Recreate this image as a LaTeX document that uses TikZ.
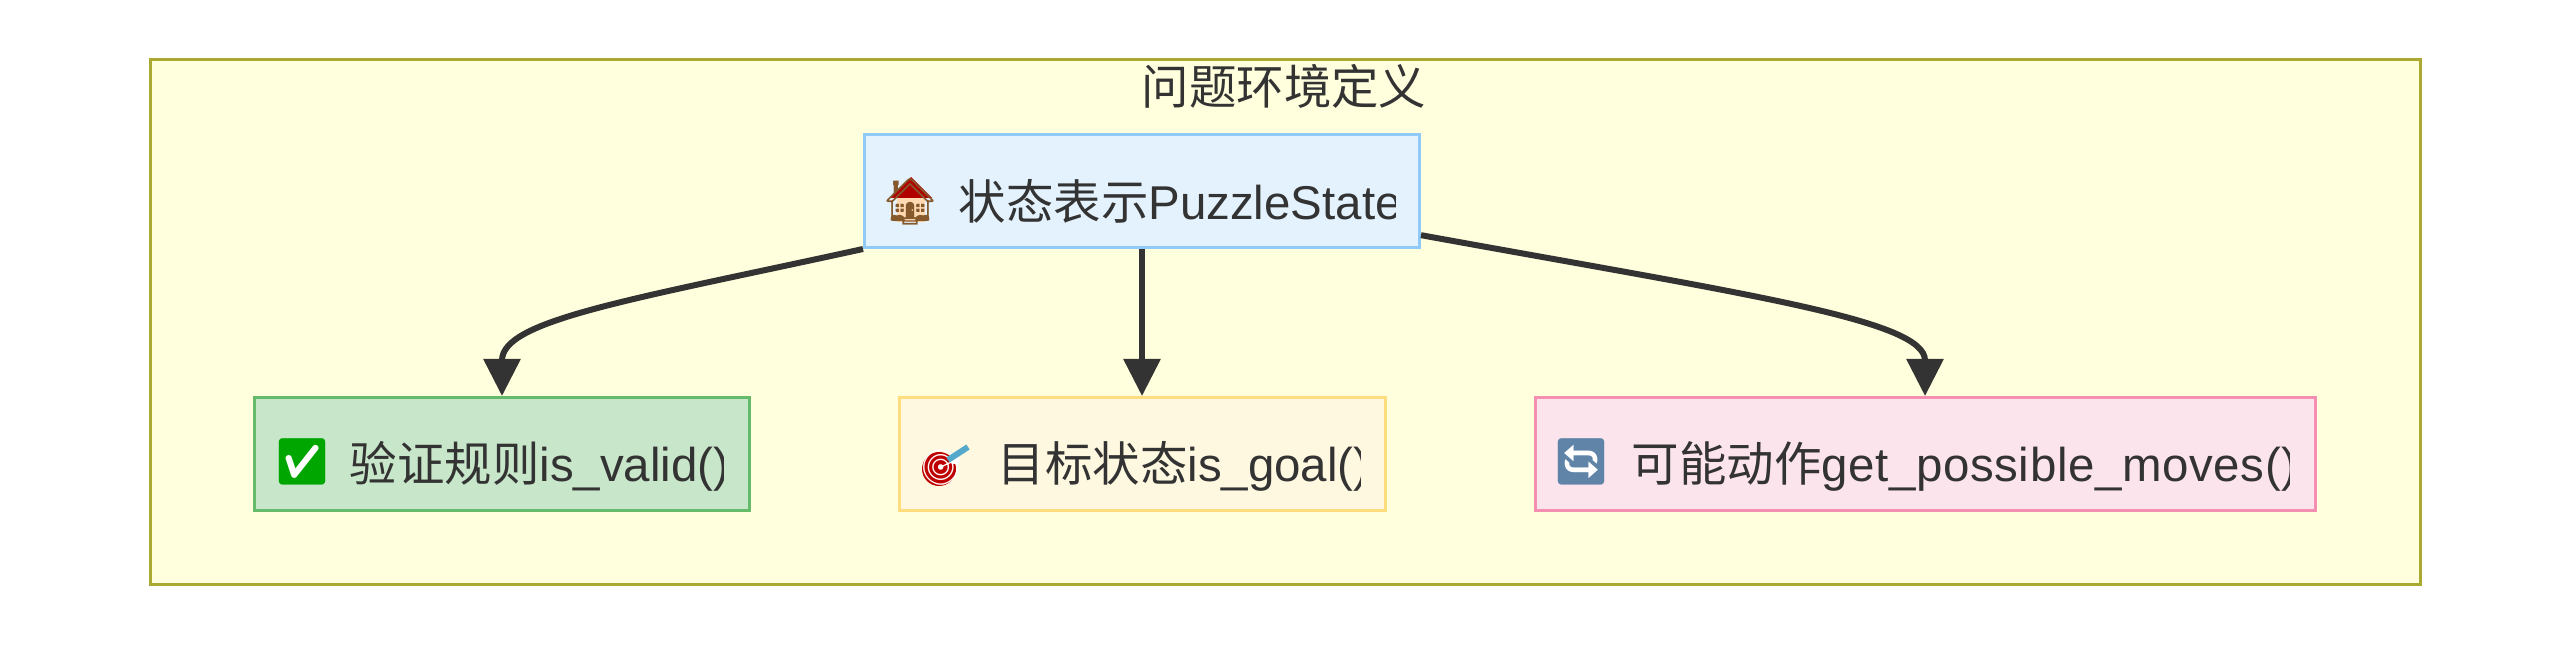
\documentclass[tikz,border=0pt]{standalone}
\usepackage{fontspec}
\setmainfont{Liberation Sans}
\newfontfamily\cjk{Noto Sans CJK SC}
\newfontfamily\emoji{Noto Emoji}
\usetikzlibrary{arrows.meta}
\definecolor{clusterfill}{HTML}{FFFFDE}
\definecolor{clusterline}{HTML}{AAAA33}
\definecolor{ink}{HTML}{333333}
\definecolor{statefill}{HTML}{E3F2FD}
\definecolor{stateline}{HTML}{90CAF9}
\definecolor{validfill}{HTML}{C8E6C9}
\definecolor{validline}{HTML}{66BB6A}
\definecolor{goalfill}{HTML}{FFF8E1}
\definecolor{goalline}{HTML}{FFDC7D}
\definecolor{movesfill}{HTML}{FCE4EC}
\definecolor{movesline}{HTML}{F48FB1}
\definecolor{syncblue}{HTML}{5F84A8}
\tikzset{
  flow/.style={draw=ink,line width=0.06cm,-{Triangle[width=0.36cm,length=0.37cm]}},
  box/.style={draw,line width=0.03cm,minimum height=1.13cm,inner sep=0pt},
  label/.style={anchor=base west,inner sep=0pt,text=ink,font=\fontsize{13.5pt}{16pt}\selectfont},
  icon/.style={inner sep=0pt,font=\fontsize{13pt}{16pt}\selectfont\emoji},
  backing/.style={inner sep=0pt,fill=white,rounded corners=0.08cm,minimum size=0.44cm},
}
\begin{document}
\begin{tikzpicture}
  \useasboundingbox (0,0) rectangle (25.70,-6.45);
  \fill[white] (0,0) rectangle (25.70,-6.45);
  % group
  \node[draw=clusterline,fill=clusterfill,line width=0.03cm,minimum width=22.70cm,minimum height=5.25cm,inner sep=0pt] (env) at (12.85,-3.225) {};
  \node[label,anchor=base,font=\fontsize{13.5pt}{16pt}\selectfont\cjk] (title) at (12.84,-1.05) {问题环境定义};
  % boxes
  \node[box,draw=stateline,fill=statefill,minimum width=5.55cm] (state) at (11.42,-1.91) {};
  \node[box,draw=validline,fill=validfill,minimum width=4.95cm] (valid) at (5.02,-4.54) {};
  \node[box,draw=goalline,fill=goalfill,minimum width=4.86cm] (goal) at (11.42,-4.54) {};
  \node[box,draw=movesline,fill=movesfill,minimum width=7.80cm] (moves) at (19.25,-4.54) {};
  % icons
  \fill[red!70!black] (9.11,-1.77) -- (8.90,-1.98) -- (9.32,-1.98) -- cycle;
  \fill[orange!30!white] (8.97,-1.98) rectangle (9.25,-2.22);
  \node[icon,text=brown!70!black] (house) at (9.105,-2.02) {🏠};
  \node[backing] (checkbg) at (3.02,-4.62) {};
  \node[icon,text=green!65!black] (check) at (3.02,-4.62) {✅};
  \fill[red!75!black] (9.39,-4.69) circle (0.17);
  \node[icon,text=white,font=\fontsize{10pt}{12pt}\selectfont\emoji] (target) at (9.42,-4.67) {🎯};
  \draw[cyan!60!gray,line width=0.06cm] (9.48,-4.60) -- (9.68,-4.47);
  \node[backing] (syncbg) at (15.815,-4.62) {};
  \node[icon,text=syncblue] (sync) at (15.815,-4.62) {🔄};
  % texts, cut off at the padding
  \begin{scope}
    \clip (8.64,-1.34) rectangle (13.95,-2.48);
    \node[label] (statetext) at (9.58,-2.20) {{\cjk 状态表示}PuzzleState};
  \end{scope}
  \begin{scope}
    \clip (2.54,-3.97) rectangle (7.23,-5.10);
    \node[label] (validtext) at (3.49,-4.82) {{\cjk 验证规则}is\_valid()};
  \end{scope}
  \begin{scope}
    \clip (8.99,-3.97) rectangle (13.60,-5.10);
    \node[label] (goaltext) at (9.97,-4.82) {{\cjk 目标状态}is\_goal()};
  \end{scope}
  \begin{scope}
    \clip (15.35,-3.97) rectangle (22.89,-5.10);
    \node[label] (movestext) at (16.31,-4.82) {{\cjk 可能动作}\addfontfeature{LetterSpace=1.3}get\_possible\_moves()};
  \end{scope}
  % edges
  \draw[flow] (state.south west) .. controls (6.30,-3.00) and (5.02,-3.20) .. (valid.north);
  \draw[flow] (state) -- (goal);
  \draw[flow] (state.-9.4) .. controls (17.50,-2.95) and (19.25,-3.20) .. (moves.north);
\end{tikzpicture}
\end{document}
